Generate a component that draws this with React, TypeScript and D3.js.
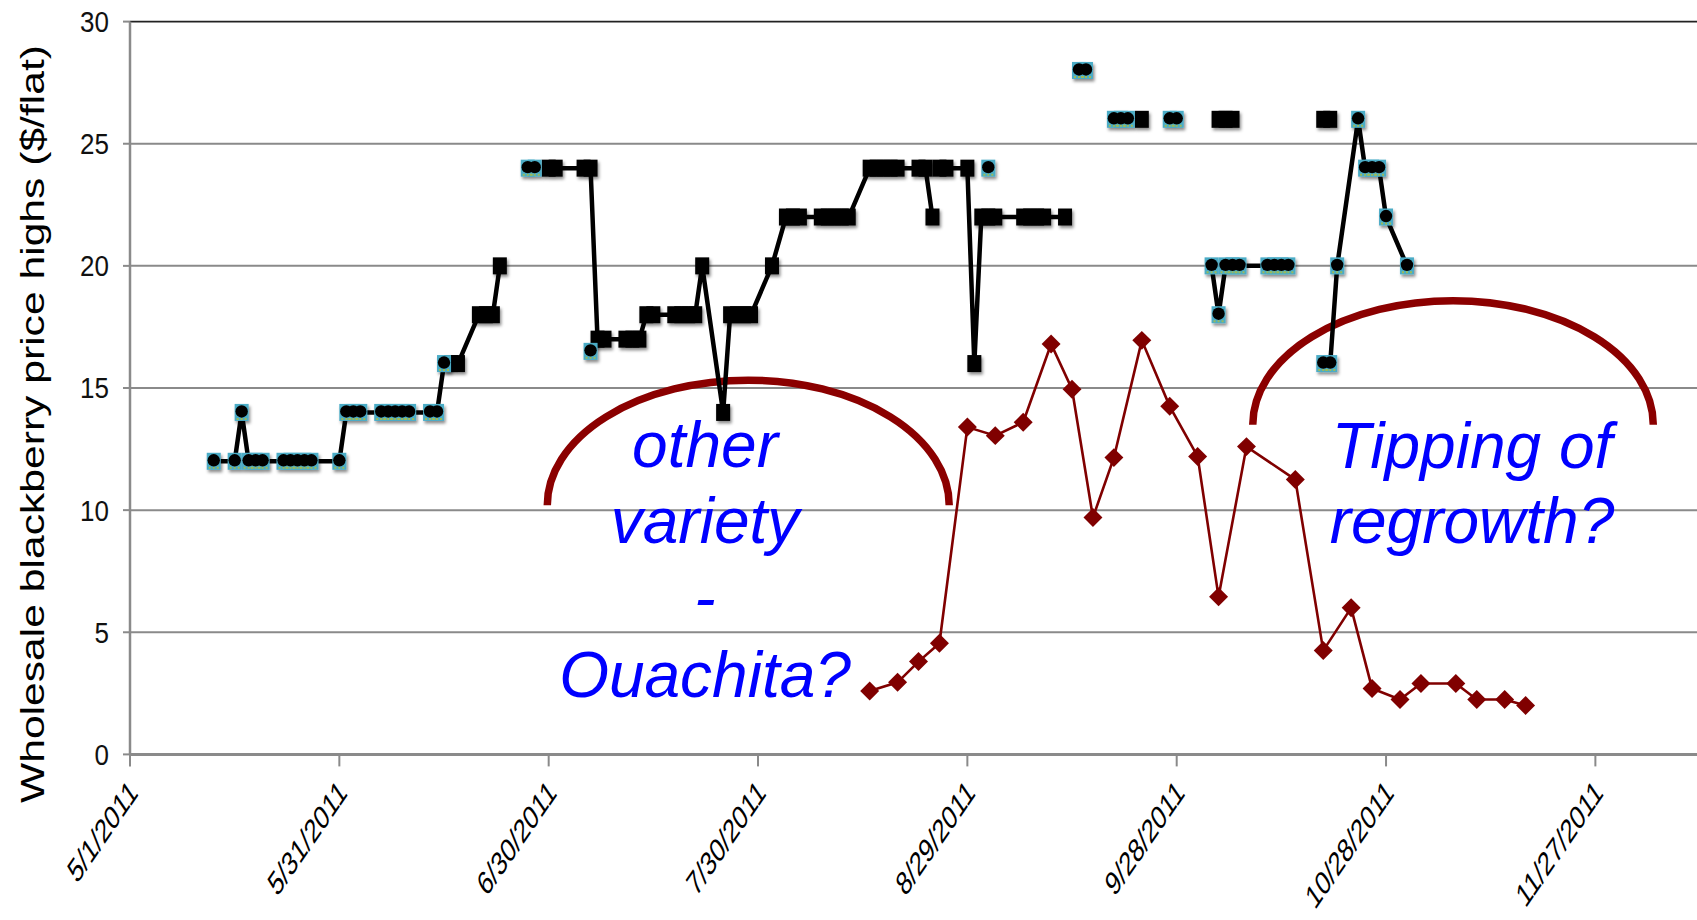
import * as d3 from "d3";

const W = 1697;
const H = 920;
const margin = { top: 21.6, left: 130, bottom: 754.4 };

// wholesale highs, market with round markers (null = no quote, line breaks)
const highsRound: ([string, number] | null)[] = [
  ["5/13", 12], ["5/16", 12], ["5/17", 14], ["5/18", 12], ["5/19", 12], ["5/20", 12],
  ["5/23", 12], ["5/24", 12], ["5/25", 12], ["5/26", 12], ["5/27", 12], ["5/31", 12],
  ["6/1", 14], ["6/2", 14], ["6/3", 14], ["6/6", 14], ["6/7", 14], ["6/8", 14],
  ["6/9", 14], ["6/10", 14], ["6/13", 14], ["6/14", 14], ["6/15", 16],
  null,
  ["6/27", 24], ["6/28", 24],
  null,
  ["7/6", 16.5],
  null,
  ["9/1", 24],
  null,
  ["9/14", 28], ["9/15", 28],
  null,
  ["9/19", 26], ["9/20", 26], ["9/21", 26],
  null,
  ["9/27", 26], ["9/28", 26],
  null,
  ["10/3", 20], ["10/4", 18], ["10/5", 20], ["10/6", 20], ["10/7", 20],
  ["10/11", 20], ["10/12", 20], ["10/13", 20], ["10/14", 20],
  null,
  ["10/19", 16], ["10/20", 16], ["10/21", 20], ["10/24", 26], ["10/25", 24],
  ["10/26", 24], ["10/27", 24], ["10/28", 22], ["10/31", 20],
];

// wholesale highs, market with square markers
const highsSquare: ([string, number] | null)[] = [
  ["6/16", 16], ["6/17", 16], ["6/20", 18], ["6/21", 18], ["6/22", 18], ["6/23", 20],
  null,
  ["6/30", 24], ["7/1", 24], ["7/5", 24], ["7/6", 24], ["7/7", 17], ["7/8", 17],
  ["7/11", 17], ["7/12", 17], ["7/13", 17], ["7/14", 18], ["7/15", 18],
  ["7/18", 18], ["7/19", 18], ["7/20", 18], ["7/21", 18], ["7/22", 20],
  ["7/25", 14], ["7/26", 18], ["7/27", 18], ["7/28", 18], ["7/29", 18],
  ["8/1", 20], ["8/3", 22], ["8/4", 22], ["8/5", 22],
  ["8/8", 22], ["8/9", 22], ["8/10", 22], ["8/11", 22], ["8/12", 22],
  ["8/15", 24], ["8/16", 24], ["8/17", 24], ["8/18", 24], ["8/19", 24],
  ["8/22", 24], ["8/23", 24], ["8/24", 22],
  null,
  ["8/25", 24], ["8/26", 24], ["8/29", 24], ["8/30", 16], ["8/31", 22],
  ["9/1", 22], ["9/2", 22], ["9/6", 22], ["9/7", 22], ["9/8", 22], ["9/9", 22],
  ["9/12", 22],
  null,
  ["9/23", 26],
  null,
  ["10/4", 26], ["10/5", 26], ["10/6", 26],
  null,
  ["10/19", 26], ["10/20", 26],
];

// dark red diamond series
const lowSeries: [string, number][] = [
  ["8/15", 2.6], ["8/19", 2.95], ["8/22", 3.8], ["8/25", 4.55], ["8/29", 13.4],
  ["9/2", 13.05], ["9/6", 13.6], ["9/10", 16.8], ["9/13", 14.95], ["9/16", 9.7],
  ["9/19", 12.15], ["9/23", 16.95], ["9/27", 14.25], ["10/1", 12.2], ["10/4", 6.45],
  ["10/8", 12.6], ["10/15", 11.25], ["10/19", 4.25], ["10/23", 6.0], ["10/26", 2.7],
  ["10/30", 2.25], ["11/2", 2.9], ["11/7", 2.9], ["11/10", 2.25], ["11/14", 2.25],
  ["11/17", 2.0],
];

const yTicks = [0, 5, 10, 15, 20, 25, 30];
const xTickStepDays = 30;
const yTitle = "Wholesale blackberry price highs ($/flat)";

const noteLeft = ["other", "variety", "-", "Ouachita?"];
const noteRight = ["Tipping of", "regrowth?"];

type Pt = { date: Date; value: number };

const parse = d3.utcParse("%m/%d/%Y");
const toPts = (arr: ([string, number] | null)[]): (Pt | null)[] =>
  arr.map((d) => (d ? { date: parse(`${d[0]}/2011`) as Date, value: d[1] } : null));

const start = parse("5/1/2011") as Date;
const end = parse("12/12/2011") as Date;

const x = d3
  .scaleUtc()
  .domain([start, end])
  .range([margin.left, margin.left + 225 * 6.978]);
const y = d3.scaleLinear().domain([0, 30]).range([margin.bottom, margin.top]);

const fmt = d3.utcFormat("%-m/%-d/%Y");
const xTicks = d3.range(0, 211, xTickStepDays).map((d) => d3.utcDay.offset(start, d));

const font = "Arial, 'Liberation Sans', sans-serif";

export default function App() {
  const roundPts = toPts(highsRound);
  const squarePts = toPts(highsSquare);
  const redPts = toPts(lowSeries) as Pt[];

  const line = d3
    .line<Pt | null>()
    .defined((d) => d != null)
    .x((d) => x((d as Pt).date))
    .y((d) => y((d as Pt).value));

  const diamond = d3.symbol(d3.symbolSquare, 180)()!;

  // annotation arcs (half ellipses), anchored in data space
  const arcPath = (cDate: string, cVal: number, rxDays: number, ryVal: number) => {
    const c = parse(`${cDate}/2011`) as Date;
    const cx = x(c) + 0.6 * 6.978;
    const cy = y(cVal);
    const rx = rxDays * 6.978;
    const ry = y(0) - y(ryVal);
    return `M${cx - rx},${cy} A${rx},${ry} 0 0 1 ${cx + rx},${cy}`;
  };

  return (
    <svg
      width={W}
      height={H}
      style={{ position: "absolute", left: 0, top: 0, background: "#fff" }}
      fontFamily={font}
    >
      <defs>
        <filter id="shadow" x="-50%" y="-50%" width="200%" height="200%">
          <feDropShadow dx="1.5" dy="2.5" stdDeviation="1.4" floodColor="#000" floodOpacity="0.45" />
        </filter>
      </defs>

      {/* grid */}
      {yTicks.slice(1).map((t) => (
        <line
          key={t}
          x1={margin.left}
          x2={W}
          y1={y(t)}
          y2={y(t)}
          stroke={t === 30 ? "#222" : "#8a8a8a"}
          strokeWidth={t === 30 ? 1.6 : 2}
        />
      ))}

      {/* y axis */}
      <line x1={margin.left} x2={margin.left} y1={y(30)} y2={y(0)} stroke="#8a8a8a" strokeWidth={2.5} />
      {yTicks.map((t) => (
        <g key={t}>
          <line x1={margin.left - 7} x2={margin.left} y1={y(t)} y2={y(t)} stroke="#8a8a8a" strokeWidth={2} />
          <text
            transform={`translate(109,${y(t)}) scale(1,1.12)`}
            dy="0.36em"
            textAnchor="end"
            fontSize={26}
            fill="#111"
          >
            {t}
          </text>
        </g>
      ))}
      <text
        transform={`translate(44,${424}) rotate(-90)`}
        textAnchor="middle"
        fontSize={33}
        textLength={758}
        lengthAdjust="spacingAndGlyphs"
        fill="#000"
      >
        {yTitle}
      </text>

      {/* x axis */}
      <line x1={margin.left} x2={W} y1={y(0)} y2={y(0)} stroke="#8a8a8a" strokeWidth={3} />
      {xTicks.map((t) => (
        <g key={+t}>
          <line x1={x(t)} x2={x(t)} y1={y(0)} y2={y(0) + 12} stroke="#8a8a8a" strokeWidth={2} />
          <text
            transform={`translate(${x(t) + 9},${y(0) + 40}) scale(1,1.45) rotate(-45)`}
            textAnchor="end"
            fontSize={23}
            fill="#000"
          >
            {fmt(t)}
          </text>
        </g>
      ))}

      {/* annotation arcs */}
      <g fill="none" stroke="#8b0000" strokeWidth={7.5}>
        <path d={arcPath("7/28", 10.2, 28.8, 5.12)} />
        <path d={arcPath("11/6", 13.5, 28.7, 5.08)} />
      </g>

      {/* red series */}
      <path d={line(redPts) ?? ""} fill="none" stroke="#800000" strokeWidth={2.6} />
      {redPts.map((d, i) => (
        <path
          key={i}
          d={diamond}
          transform={`translate(${x(d.date)},${y(d.value)}) rotate(45)`}
          fill="#800000"
        />
      ))}

      {/* black highs lines */}
      <path d={line(squarePts) ?? ""} fill="none" stroke="#000" strokeWidth={4.5} />
      <path d={line(roundPts) ?? ""} fill="none" stroke="#000" strokeWidth={4.5} />

      {/* square markers */}
      <g filter="url(#shadow)">
        {(squarePts.filter(Boolean) as Pt[]).map((d, i) => (
          <rect key={i} x={x(d.date) - 7} y={y(d.value) - 8.5} width={14} height={17} fill="#000" />
        ))}
      </g>

      {/* round markers on cyan */}
      <g filter="url(#shadow)">
        {(roundPts.filter(Boolean) as Pt[]).map((d, i) => (
          <rect key={i} x={x(d.date) - 7} y={y(d.value) - 8.5} width={14} height={17} fill="#4bacc6" />
        ))}
      </g>
      {(roundPts.filter(Boolean) as Pt[]).map((d, i) => (
        <g key={i}>
          <line
            x1={x(d.date) - 5}
            x2={x(d.date) + 5}
            y1={y(d.value) + 6.5}
            y2={y(d.value) + 6.5}
            stroke="#9bbb59"
            strokeWidth={2}
            strokeDasharray="2,2"
          />
          <circle cx={x(d.date)} cy={y(d.value) - 1} r={6.2} fill="#000" />
        </g>
      ))}

      {/* annotations */}
      <g fill="#0000ff" fontStyle="italic" fontSize={64} textAnchor="middle">
        {noteLeft.map((s, i) => (
          <text key={s} x={705} y={466.7 + i * 76.7}>
            {s}
          </text>
        ))}
        {noteRight.map((s, i) => (
          <text key={s} x={1472} y={468.3 + i * 75}>
            {s}
          </text>
        ))}
      </g>
    </svg>
  );
}
